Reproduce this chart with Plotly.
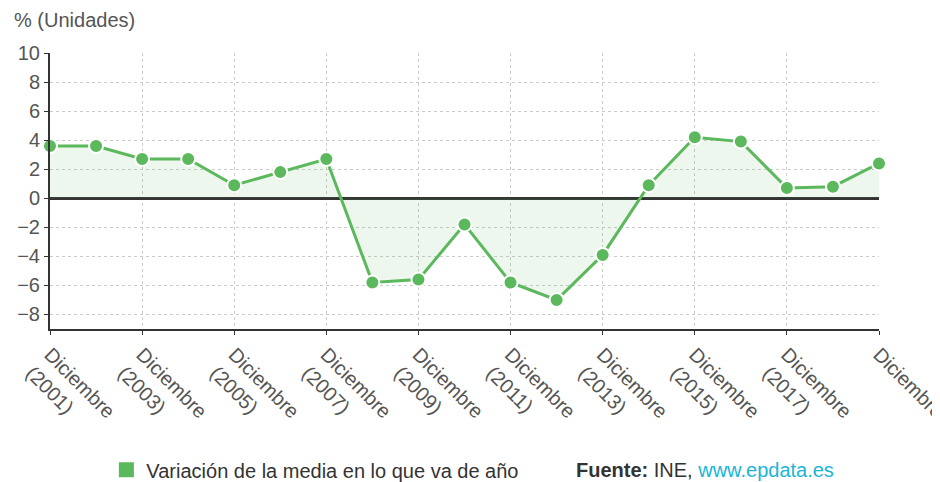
import plotly.graph_objects as go

years = list(range(2001, 2020))
values = [3.6, 3.6, 2.7, 2.7, 0.9, 1.8, 2.7, -5.8, -5.6, -1.8, -5.8, -7.0, -3.9, 0.9, 4.2, 3.9, 0.7, 0.8, 2.4]
tick_years = list(range(2001, 2020, 2))
tick_labels = [f"Diciembre<br>({y})" for y in tick_years[:-1]] + ["Diciembre"]
series_name = "Variación de la media en lo que va de año"

GREEN = "#5cb85c"
FONT = "Liberation Sans, Arial, sans-serif"

fig = go.Figure()
fig.add_trace(go.Scatter(
    x=years, y=values, mode="lines+markers",
    line=dict(color=GREEN, width=3),
    marker=dict(color=GREEN, size=14, line=dict(color="white", width=2)),
    fill="tozeroy", fillcolor="rgba(92,184,92,0.11)",
    cliponaxis=False, showlegend=False, name=series_name,
))
fig.add_trace(go.Scatter(
    x=[None], y=[None], mode="markers",
    marker=dict(color=GREEN, symbol="square", size=15),
    name=series_name, showlegend=True,
))

fig.update_layout(
    width=932, height=474,
    margin=dict(l=42, r=61, t=45, b=153, autoexpand=False),
    plot_bgcolor="white", paper_bgcolor="white",
    font=dict(family=FONT, size=20, color="#555555"),
    legend=dict(orientation="h", x=0.068, y=-0.51, xanchor="left", yanchor="middle",
                font=dict(size=20, color="#333333"), itemwidth=30, bgcolor="rgba(0,0,0,0)"),
    xaxis=dict(
        range=[2001, 2019], tickmode="array", tickvals=tick_years, ticktext=tick_labels,
        tickangle=45, showgrid=True, gridcolor="#cccccc", griddash="dot", gridwidth=1,
        showline=True, linecolor="#333333", linewidth=2, ticks="outside", ticklen=4,
        tickcolor="#333333", tickfont=dict(size=20, color="#555555"), zeroline=False,
        automargin=False, ticklabeloverflow="allow",
    ),
    yaxis=dict(
        range=[-9, 10], tickvals=list(range(-8, 11, 2)),
        showgrid=True, gridcolor="#cccccc", griddash="dot", gridwidth=1,
        showline=True, linecolor="#333333", linewidth=2, ticks="outside", ticklen=4,
        tickcolor="#333333", tickfont=dict(size=20, color="#555555"),
        zeroline=True, zerolinecolor="#333333", zerolinewidth=2.5, automargin=False,
    ),
    annotations=[
        dict(text="% (Unidades)", xref="paper", yref="paper", x=-0.046, y=1.12,
             xanchor="left", yanchor="middle", showarrow=False,
             font=dict(size=20, color="#555555")),
        dict(text="<b>Fuente:</b> INE, <span style='color:#1ab5d6'>www.epdata.es</span>",
             xref="paper", yref="paper", x=0.632, y=-0.51, xanchor="left", yanchor="middle",
             showarrow=False, font=dict(size=20, color="#333333")),
    ],
)

fig.write_html("out.html")
